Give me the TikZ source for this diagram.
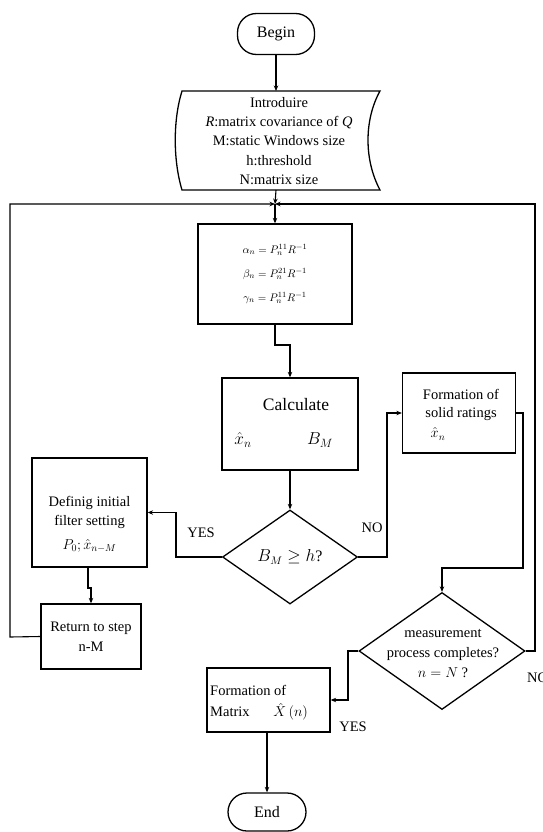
\documentclass[tikz,border=0pt]{standalone}
\usepackage{fontspec}
\setmainfont{Liberation Serif}
\usetikzlibrary{arrows.meta,shapes.geometric}
\tikzset{
  ln/.style={line width=1.1pt},
  arr/.style={ln,-{Stealth[length=5.5pt,width=4.5pt]}},
  box/.style={draw,line width=1.3pt,inner sep=1pt,align=center},
  term/.style={draw,line width=1.3pt,rounded corners=19pt,inner sep=0pt},
  dia/.style={draw,diamond,line width=1.3pt,inner sep=0pt,align=center},
  txt/.style={inner sep=0pt,align=center},
  lbl/.style={inner sep=0pt,font=\fontsize{14.5}{16}\selectfont},
}
\begin{document}
\begin{tikzpicture}[x=1pt,y=-1pt]
\useasboundingbox (0,0) rectangle (543,832);
% Begin
\node[term,minimum width=77pt,minimum height=41pt,font=\fontsize{16}{18}\selectfont] (begin) at (276,34) {Begin};
% Input shape
\draw[line width=1.3pt] (182,91) -- (380,91) .. controls (364,120) and (364,160) .. (380,190) -- (182,190) .. controls (173,160) and (173,120) .. (182,91) -- cycle;
\node[txt,font=\fontsize{14.5}{19.3}\selectfont] (inp) at (279,141) {Introduire\\\textit{R}:matrix covariance of \textit{Q}\\M:static Windows size\\h:threshold\\N:matrix size};
\coordinate (inpT) at (276,91);
\coordinate (inpB) at (276,190);
\coordinate (j) at (275,204);
% alpha box
\node[box,minimum width=154pt,minimum height=100pt,font=\fontsize{11}{13}\selectfont] (alpha) at (275,274) {$\alpha_n = P_n^{11}R^{-1}$\\[11pt]$\beta_n = P_n^{21}R^{-1}$\\[11pt]$\gamma_n = P_n^{11}R^{-1}$};
% calculate box
\node[box,minimum width=136pt,minimum height=92pt] (calc) at (290,424) {};
\node[txt,font=\fontsize{17.5}{19}\selectfont] (calct) at (296,405) {Calculate};
\node[txt,font=\fontsize{17}{19}\selectfont] (calcx) at (243,440) {$\hat{x}_n$};
\node[txt,font=\fontsize{17}{19}\selectfont] (calcb) at (320,440) {$B_M$};
% decision 1
\node[dia,minimum width=135pt,minimum height=94pt,font=\fontsize{16}{18}\selectfont] (d1) at (290,557) {$B_M \geq h$?};
% solid ratings
\node[box,minimum width=113pt,minimum height=80pt] (solid) at (459,413) {};
\node[txt,font=\fontsize{14.5}{18}\selectfont] (solidt) at (461,405) {Formation of\\solid ratings};
\node[txt,font=\fontsize{14}{15}\selectfont] (solidx) at (438,434) {$\hat{x}_n$};
% decision 2
\node[dia,minimum width=166pt,minimum height=117pt] (d2) at (442,651) {};
\node[txt,font=\fontsize{14.5}{20}\selectfont] (d2t) at (443,654) {measurement\\process completes?\\$n = N$ ?};
% matrix box
\node[box,minimum width=123pt,minimum height=64pt] (mat) at (268.5,700) {};
\node[txt,font=\fontsize{14.5}{21}\selectfont,anchor=west,align=left] (matt) at (210,703) {Formation of\\Matrix \hspace{20pt}$\hat{X}\,(n)$};
% End
\node[term,minimum width=78pt,minimum height=38pt,font=\fontsize{16}{18}\selectfont] (end) at (267,812) {End};
% definig box
\node[box,minimum width=115pt,minimum height=109pt] (def) at (89.5,512.5) {};
\node[txt,font=\fontsize{14.5}{19.5}\selectfont] (deft) at (89.5,524) {Definig initial\\filter setting\\[4pt]$P_0;\hat{x}_{n-M}$};
% return box
\node[box,minimum width=100pt,minimum height=65pt,font=\fontsize{14.5}{19.5}\selectfont] (ret) at (91,636.5) {Return to step\\n-M};
% labels
\node[lbl] (yes1) at (201,533) {YES};
\node[lbl] (no1) at (372,528) {NO};
\node[lbl] (yes2) at (353,727) {YES};
\node[lbl,anchor=west] (no2) at (527,678) {NO};
% connectors
\draw[arr] (begin.south) -- (inpT);
\draw[arr] (inpB) -- (j);
\draw[arr] (j) -- (alpha.north);
\draw[arr] (alpha.south) -- (275,345) -- (290,345) -- (calc.north);
\draw[arr] (calc.south) -- (d1.north);
\draw[arr] (d1.east) -- (387,557) |- (solid.west);
\draw[arr] (solid.east) -- (523,413) -- (523,568) -| (d2.north);
\draw[arr] (d2.east) -- (535,651) -- (535,204) -- (j);
\draw[arr] (d2.west) -- (348,651) |- (mat.east);
\draw[arr] (mat.south -| end.north) -- (end.north);
\draw[arr] (d1.west) -- (176,557) |- (def.east);
\draw[arr] (88,567) -- (88,588) -- (91,588) -- (ret.north);
\draw[arr] (ret.west) -- (10,637) -- (10,204) -- (j);
\end{tikzpicture}
\end{document}
